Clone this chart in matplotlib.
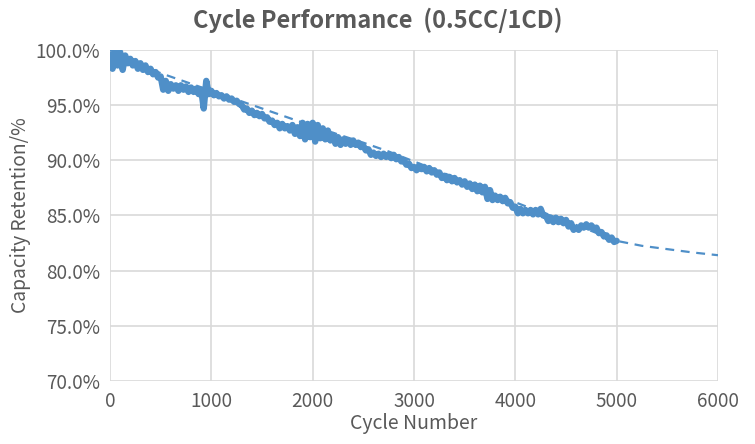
import matplotlib
matplotlib.use("Agg")
import matplotlib.pyplot as plt
from matplotlib.ticker import FuncFormatter

plt.rcParams['font.family'] = ['Noto Sans CJK SC', 'DejaVu Sans']

# measured capacity retention (%), every 25 cycles from 0 to 5000
cycles = list(range(0, 5001, 25))
retention = [
    99.6, 98.3, 99.9, 98.6,  99.8, 98.2, 99.5, 98.8,  99.2, 98.6, 99.0, 98.3,
    98.8, 98.2, 98.6, 98.0,  98.3, 97.8, 98.0, 97.5,  97.6, 96.4, 97.2, 96.3,
    96.9, 96.5, 96.8, 96.3,  96.8, 96.4, 96.7, 96.2,  96.6, 96.2, 96.5, 96.0,
    96.4, 94.7, 97.2, 96.0,  96.3, 95.9, 96.1, 95.8,  95.9, 95.6, 95.8, 95.5,
    95.6, 95.3, 95.4, 95.1,  95.0, 94.6, 94.7, 94.3,  94.5, 94.1, 94.3, 94.0,
    94.2, 93.8, 93.9, 93.5,  93.6, 93.2, 93.4, 92.9,  93.3, 92.9, 93.1, 92.7,
    93.2, 92.4, 93.0, 92.2,  93.4, 91.9, 93.3, 92.1,  93.4, 91.7, 93.2, 92.0,
    92.9, 91.9, 92.7, 91.8,  92.3, 91.5, 92.1, 91.4,  91.9, 91.5, 91.8, 91.4,
    91.8, 91.4, 91.6, 91.2,  91.3, 90.9, 91.0, 90.5,  90.7, 90.4, 90.6, 90.3,
    90.6, 90.3, 90.5, 90.2,  90.5, 90.1, 90.3, 89.9,  90.0, 89.6, 89.7, 89.3,
    89.4, 89.1, 89.5, 89.2,  89.4, 89.0, 89.3, 88.9,  89.1, 88.7, 88.9, 88.4,
    88.6, 88.2, 88.5, 88.1,  88.4, 88.0, 88.2, 87.8,  88.1, 87.6, 87.9, 87.4,
    87.8, 87.2, 87.7, 87.1,  87.6, 86.5, 87.3, 86.4,  86.8, 86.4, 86.7, 86.3,
    86.6, 86.1, 86.2, 85.7,  85.8, 85.2, 85.6, 85.2,  85.5, 85.2, 85.5, 85.1,
    85.5, 85.1, 85.6, 85.0,  85.0, 84.5, 84.8, 84.4,  84.8, 84.4, 84.7, 84.3,
    84.6, 84.0, 84.3, 83.7,  83.9, 83.7, 84.1, 83.9,  84.2, 83.9, 84.1, 83.8,
    83.9, 83.4, 83.5, 83.1,  83.2, 82.8, 83.0, 82.6,  82.7,
]

# dashed trend line
trend_cycles = [0, 250, 500, 750, 1000, 1250, 1500, 1750, 2000, 2250, 2500,
                2750, 3000, 3250, 3500, 3750, 4000, 4250, 4500, 4750, 5000,
                5250, 5500, 5750, 6000]
trend_values = [100.0, 98.9, 97.9, 97.1, 96.3, 95.5, 94.7, 93.9, 93.1, 92.35,
                91.6, 90.8, 89.9, 89.0, 88.1, 87.1, 86.2, 85.3, 84.5, 83.6,
                82.7, 82.25, 81.95, 81.65, 81.4]

xticks = [0, 1000, 2000, 3000, 4000, 5000, 6000]
yticks = [70, 75, 80, 85, 90, 95, 100]

color = '#4f8fc8'
grey = '#595959'

fig = plt.figure(figsize=(7.55, 4.44), dpi=100)
ax = fig.add_axes([0.1457, 0.1419, 0.951 - 0.1457, 0.8874 - 0.1419])

ax.plot(trend_cycles, trend_values, color=color, lw=1.6, ls=(0, (4, 3)), zorder=3)
ax.plot(cycles, retention, color=color, lw=4.6, zorder=4,
        solid_joinstyle='round', solid_capstyle='round')

ax.set_xlim(0, 6000)
ax.set_ylim(70, 100)
ax.set_xticks(xticks)
ax.set_yticks(yticks)
ax.yaxis.set_major_formatter(FuncFormatter(lambda v, p: f"{v:.1f}%"))
ax.grid(True, color='#d9d9d9', lw=1.2)
ax.set_axisbelow(True)
for s in ax.spines.values():
    s.set_visible(False)
ax.tick_params(length=0, labelsize=13.6, labelcolor=grey, pad=7)

ax.set_xlabel('Cycle Number', fontsize=14, color=grey, labelpad=1)
ax.set_ylabel('Capacity Retention/%', fontsize=13.8, color=grey, labelpad=3)
fig.text(0.5, 0.955, 'Cycle Performance  (0.5CC/1CD)', ha='center', va='center',
         fontsize=17, fontweight='bold', color=grey)

fig.savefig('out.png', dpi=100)
